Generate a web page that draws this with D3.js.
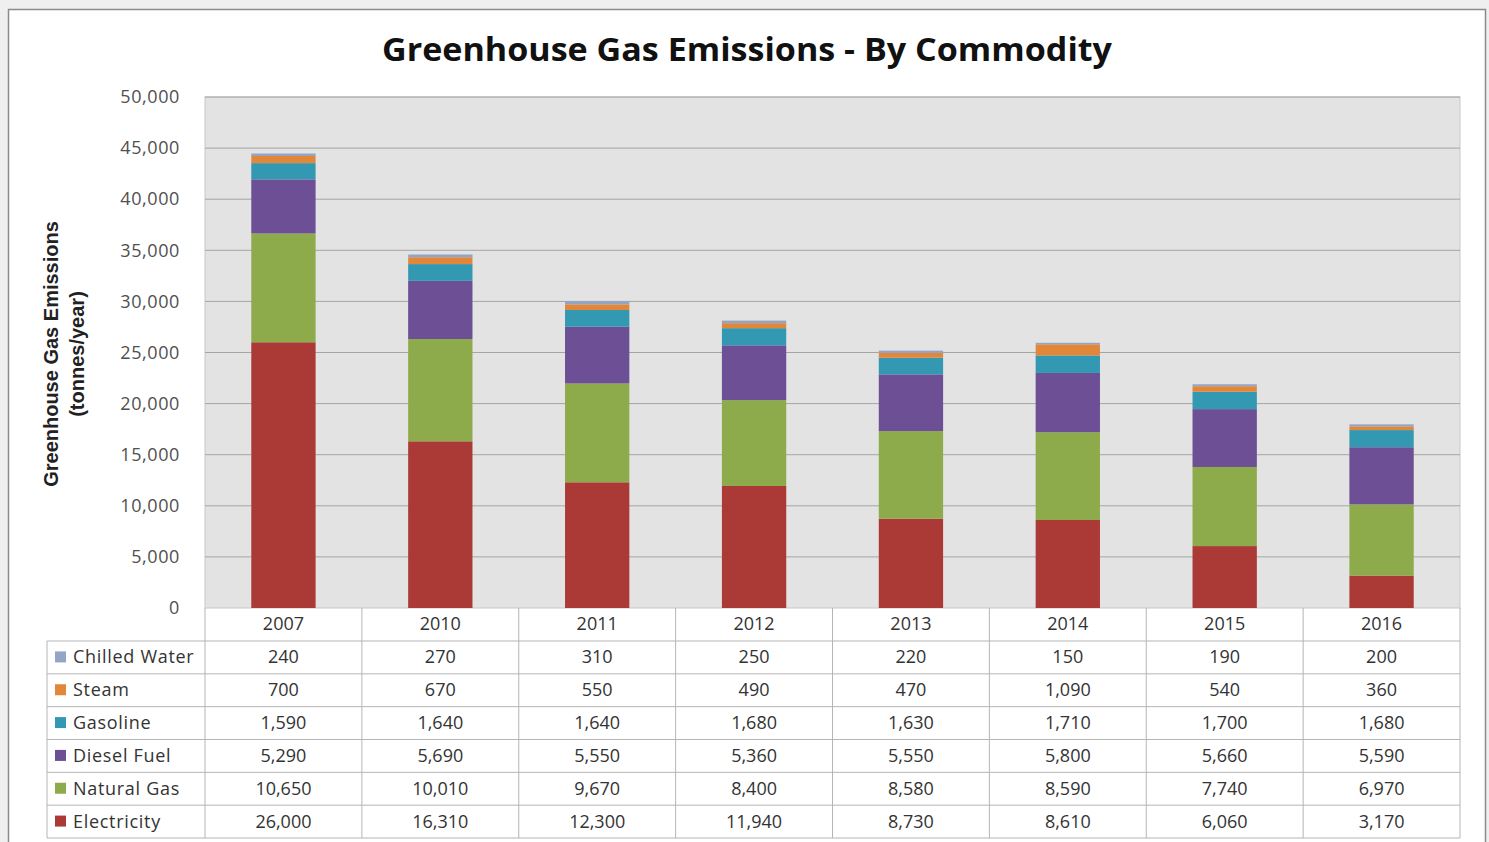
<!DOCTYPE html>
<html><head><meta charset="utf-8">
<script src="https://cdn.jsdelivr.net/npm/d3@7"></script>
<style>body{margin:0;background:#efefef;} svg{display:block;font-family:"Open Sans",sans-serif;}</style>
</head><body><svg id="c" width="1489" height="842"></svg>
<script>
const years = ["2007","2010","2011","2012","2013","2014","2015","2016"];
const seriesNames = ["Chilled Water","Steam","Gasoline","Diesel Fuel","Natural Gas","Electricity"];
const chilledWater = [240,270,310,250,220,150,190,200];
const steam = [700,670,550,490,470,1090,540,360];
const gasoline = [1590,1640,1640,1680,1630,1710,1700,1680];
const dieselFuel = [5290,5690,5550,5360,5550,5800,5660,5590];
const naturalGas = [10650,10010,9670,8400,8580,8590,7740,6970];
const electricity = [26000,16310,12300,11940,8730,8610,6060,3170];
const yTicks = [0,5000,10000,15000,20000,25000,30000,35000,40000,45000,50000];
const colors = ["#93a5c4","#e2873a","#3399b3","#6c4f95","#8eab4b","#ab3a37"];
const seriesValues = [chilledWater,steam,gasoline,dieselFuel,naturalGas,electricity];

const svg = d3.select("#c");
svg.append("rect").attr("x",8.5).attr("y",9.5).attr("width",1477).attr("height",840).attr("fill","#fff").attr("stroke","#8a8a8a").attr("stroke-width",1.5);

const L=205,R=1460,T=97,B=608;
const x = d3.scaleBand().domain(years).range([L,R]).paddingInner(0.59).paddingOuter(0.295);
const colX = d3.scaleBand().domain(years).range([L,R]);
const y = d3.scaleLinear().domain([0,50000]).range([B,T]);

svg.append("rect").attr("x",L).attr("y",T).attr("width",R-L).attr("height",B-T).attr("fill","#e3e3e3").attr("stroke","#c8c8c8");
svg.append("g").selectAll("line").data(yTicks.filter(d=>d>0)).join("line")
  .attr("x1",L).attr("x2",R).attr("y1",d=>y(d)).attr("y2",d=>y(d)).attr("stroke","#a5a5a5").attr("stroke-width",1);

const yAxis = d3.axisLeft(y).tickValues(yTicks).tickFormat(d3.format(",")).tickSize(0).tickPadding(25);
const ya = svg.append("g").attr("transform",`translate(${L},0)`).call(yAxis);
ya.select(".domain").remove();
ya.selectAll("text").attr("font-size",18).attr("letter-spacing","0.6px").attr("fill","#505050").attr("font-family","'Open Sans',sans-serif");

const rows = years.map((yr,i)=>{const o={year:yr}; seriesNames.forEach((s,j)=>o[s]=seriesValues[j][i]); return o;});
const stackOrder = seriesNames.slice().reverse();
const stacked = d3.stack().keys(stackOrder)(rows);
svg.append("g").selectAll("g").data(stacked).join("g")
  .attr("fill",d=>colors[seriesNames.indexOf(d.key)])
  .selectAll("rect").data(d=>d).join("rect")
  .attr("x",d=>x(d.data.year)).attr("width",x.bandwidth())
  .attr("y",d=>y(d[1])).attr("height",d=>y(d[0])-y(d[1]));

svg.append("text").attr("x",747).attr("y",61).attr("text-anchor","middle").attr("font-size",32).attr("font-weight","bold").attr("fill","#111")
  .attr("textLength",730).attr("lengthAdjust","spacingAndGlyphs").text("Greenhouse Gas Emissions - By Commodity");

const yt = svg.append("text").attr("transform","translate(58,354) rotate(-90)").attr("text-anchor","middle").attr("font-size",20).attr("font-weight","bold").attr("fill","#222").attr("font-family","'Liberation Sans',Arial,sans-serif");
yt.append("tspan").attr("x",0).attr("dy",0).text("Greenhouse Gas Emissions");
yt.append("tspan").attr("x",0).attr("dy",26).text("(tonnes/year)");

const rowH = (838-641)/6;
const tbl = svg.append("g");
const lineC = "#b5b5b5";
years.forEach((yr,i)=>{
  const cx = colX(yr);
  tbl.append("line").attr("x1",cx).attr("x2",cx).attr("y1",B).attr("y2",838).attr("stroke",lineC);
  tbl.append("text").attr("x",cx+colX.bandwidth()/2).attr("y",B+rowH/2+6).attr("text-anchor","middle").attr("font-size",18).attr("fill","#333").text(yr);
});
tbl.append("line").attr("x1",R).attr("x2",R).attr("y1",B).attr("y2",838).attr("stroke",lineC);
tbl.append("line").attr("x1",47).attr("x2",47).attr("y1",641).attr("y2",838).attr("stroke",lineC);
for(let k=0;k<=6;k++){
  const yy = 641+k*rowH;
  tbl.append("line").attr("x1",47).attr("x2",R).attr("y1",yy).attr("y2",yy).attr("stroke",lineC);
}
const fmt = d3.format(",");
seriesNames.forEach((s,j)=>{
  const cy = 641+j*rowH+rowH/2;
  tbl.append("rect").attr("x",55).attr("y",cy-6).attr("width",11).attr("height",11).attr("fill",colors[j]);
  tbl.append("text").attr("x",73).attr("y",cy+6).attr("font-size",18).attr("letter-spacing","0.7px").attr("fill","#333").text(s);
  seriesValues[j].forEach((v,i)=>{
    tbl.append("text").attr("x",colX(years[i])+colX.bandwidth()/2).attr("y",cy+6).attr("text-anchor","middle").attr("font-size",18).attr("fill","#333").text(fmt(v));
  });
});
</script></body></html>
